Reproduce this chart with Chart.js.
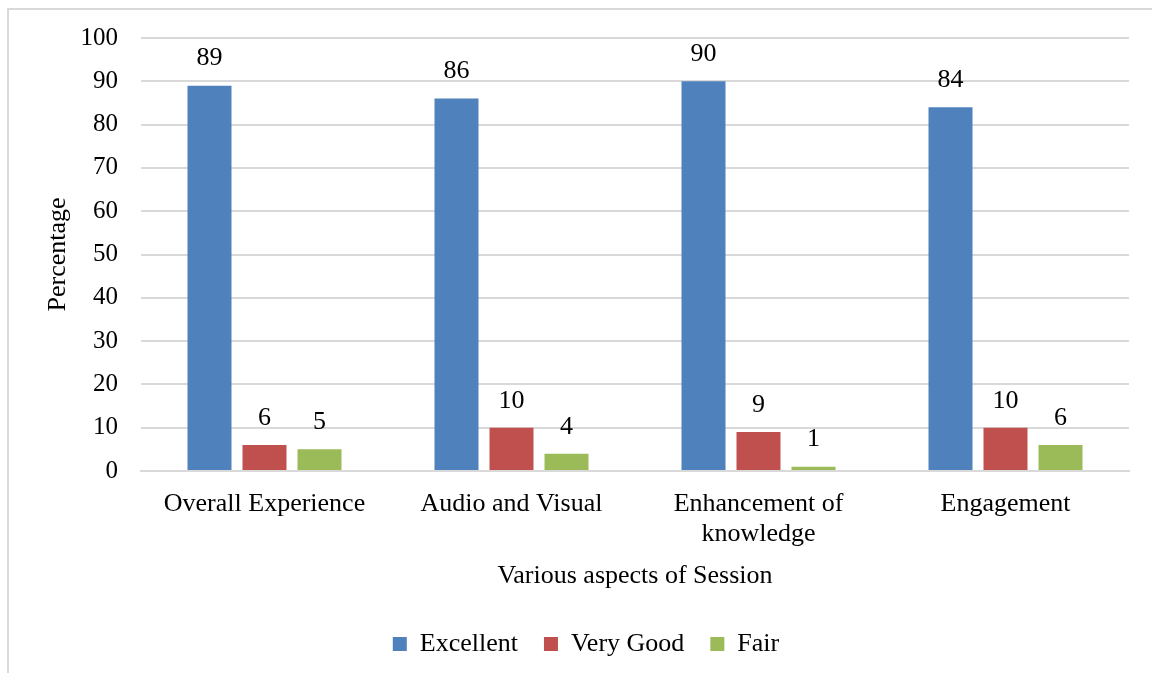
<!DOCTYPE html>
<html>
<head>
<meta charset="utf-8">
<script src="https://cdn.jsdelivr.net/npm/chart.js@4/dist/chart.umd.min.js"></script>
<style>
  html, body { margin: 0; padding: 0; background: #ffffff; overflow: hidden; }
  #frame {
    position: absolute; left: 7px; top: 8px;
    width: 1200px; height: 700px;
    border: 2px solid #d9d9d9;
  }
  #wrap { position: absolute; left: 0; top: 0; width: 1152px; height: 673px; }
</style>
</head>
<body>
<div id="frame"></div>
<div id="wrap"><canvas id="sessionChart"></canvas></div>
<script>
// Survey results per aspect of the session (percent)
const categories = ["Overall Experience", "Audio and Visual", ["Enhancement of", "knowledge"], "Engagement"];
const excellent = [89, 86, 90, 84];
const veryGood = [6, 10, 9, 10];
const fair = [5, 4, 1, 6];
const yTicks = [0, 10, 20, 30, 40, 50, 60, 70, 80, 90, 100];

const SERIF = "'Liberation Serif', 'Times New Roman', serif";
const TEXT_SIZE = 26;
const TICK_SIZE = 25;

// Simple value labels above each bar
const barValueLabels = {
  id: "barValueLabels",
  afterDatasetsDraw(chart) {
    const ctx = chart.ctx;
    ctx.save();
    ctx.font = TEXT_SIZE + "px " + SERIF;
    ctx.fillStyle = "#000000";
    ctx.textAlign = "center";
    ctx.textBaseline = "middle";
    chart.data.datasets.forEach((ds, i) => {
      const meta = chart.getDatasetMeta(i);
      meta.data.forEach((bar, j) => {
        ctx.fillText(String(ds.data[j]), bar.x, bar.y - 27);
      });
    });
    ctx.restore();
  }
};

const ctx = document.getElementById("sessionChart").getContext("2d");
new Chart(ctx, {
  type: "bar",
  data: {
    labels: categories,
    datasets: [
      { label: "Excellent", data: excellent, backgroundColor: "#4f81bd" },
      { label: "Very Good", data: veryGood, backgroundColor: "#c0504d" },
      { label: "Fair", data: fair, backgroundColor: "#9bbb59" }
    ]
  },
  options: {
    responsive: true,
    maintainAspectRatio: false,
    animation: false,
    layout: { padding: { top: 23, right: 23, left: 43, bottom: 6 } },
    datasets: {
      bar: { categoryPercentage: 0.668, barPercentage: 0.8 }
    },
    plugins: {
      legend: {
        position: "bottom",
        labels: {
          color: "#000000",
          font: { family: SERIF, size: TEXT_SIZE },
          boxWidth: 14,
          boxHeight: 14,
          padding: 26
        }
      },
      tooltip: { enabled: false }
    },
    scales: {
      x: {
        grid: { display: false },
        border: { color: "#d9d9d9", width: 2 },
        ticks: {
          color: "#000000",
          font: { family: SERIF, size: TEXT_SIZE, lineHeight: 1.15 },
          maxRotation: 0,
          autoSkip: false,
          padding: 10
        },
        title: {
          display: true,
          text: "Various aspects of Session",
          color: "#000000",
          font: { family: SERIF, size: TEXT_SIZE },
          padding: { top: 2, bottom: 13 }
        }
      },
      y: {
        min: 0,
        max: 100,
        afterBuildTicks(axis) {
          axis.ticks = yTicks.map(v => ({ value: v }));
        },
        afterFit(axis) {
          axis.width = 98;
        },
        grid: { color: "#d9d9d9", lineWidth: 2, drawTicks: false },
        border: { display: false },
        ticks: {
          color: "#000000",
          font: { family: SERIF, size: TICK_SIZE },
          padding: 23
        },
        title: {
          display: true,
          text: "Percentage",
          color: "#000000",
          font: { family: SERIF, size: TEXT_SIZE },
          padding: { top: 0, bottom: 7 }
        }
      }
    }
  },
  plugins: [barValueLabels]
});
</script>
</body>
</html>
